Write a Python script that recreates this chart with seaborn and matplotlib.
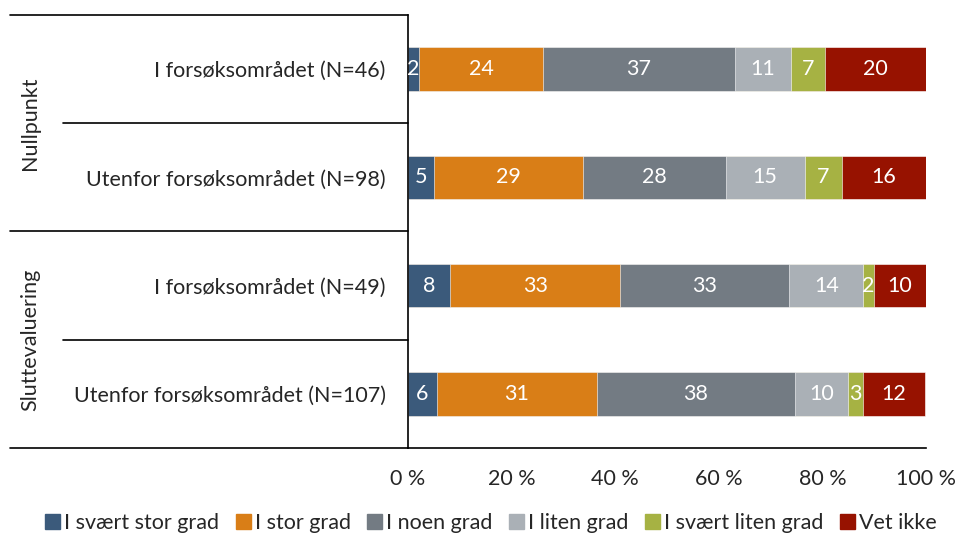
import matplotlib
matplotlib.use('Agg')
import numpy as np
import pandas as pd
import matplotlib.pyplot as plt
import seaborn as sns

# data: andel (%) per svarkategori
rows = ['I forsøksområdet (N=46)', 'Utenfor forsøksområdet (N=98)',
        'I forsøksområdet (N=49)', 'Utenfor forsøksområdet (N=107)']
groups = ['Nullpunkt', 'Sluttevaluering']
series = ['I svært stor grad', 'I stor grad', 'I noen grad', 'I liten grad',
          'I svært liten grad', 'Vet ikke']
svaert_stor = [2.2, 5.1, 8.2, 5.6]
stor = [23.9, 28.6, 32.7, 30.8]
noen = [37.0, 27.6, 32.7, 38.3]
liten = [10.9, 15.3, 14.3, 10.3]
svaert_liten = [6.5, 7.1, 2.0, 2.8]
vet_ikke = [19.6, 16.3, 10.2, 12.1]
xticks = [0, 20, 40, 60, 80, 100]

colors = ['#3B5A7B', '#D97E17', '#737B83', '#AAB0B6', '#A6B243', '#971200']

sns.set_theme(style='white')
plt.rcParams['font.family'] = ['Lato', 'DejaVu Sans']

df = pd.DataFrame({'rad': rows, series[0]: svaert_stor, series[1]: stor,
                   series[2]: noen, series[3]: liten, series[4]: svaert_liten,
                   series[5]: vet_ikke})
vals = df[series].to_numpy()
cum = vals.cumsum(axis=1)

fig = plt.figure(figsize=(9.57, 5.36), dpi=100)
ax = fig.add_axes([0.4263, 0.1642, 0.5413, 0.8078])

# stablet: tegn kumulative summer fra størst til minst
for i in range(len(series) - 1, -1, -1):
    sns.barplot(x=cum[:, i], y=df['rad'], color=colors[i], orient='h',
                width=0.4, ax=ax, edgecolor='white', linewidth=0.4,
                saturation=1)

for r in range(len(rows)):
    for i in range(len(series)):
        v = vals[r, i]
        ax.text(cum[r, i] - v / 2, r, str(int(v + 0.5)), color='white',
                fontsize=15.5, ha='center', va='center')

ax.set_xlim(0, 100)
ax.set_ylim(3.5, -0.5)
ax.set_xticks(xticks)
ax.set_xticklabels([f'{t} %' for t in xticks], fontsize=15.5)
ax.tick_params(axis='x', direction='out', length=5, width=1.2, color='black', pad=10)
ax.tick_params(axis='y', length=0, pad=16, labelsize=15.5)
ax.set_xlabel('')
ax.set_ylabel('')
for s in ['top', 'right']:
    ax.spines[s].set_visible(False)
for s in ['left', 'bottom']:
    ax.spines[s].set_color('black')
    ax.spines[s].set_linewidth(1.2)

# kategorilinjer til venstre
trans = matplotlib.transforms.blended_transform_factory(ax.transAxes, ax.transData)
for yb, x0 in zip([-0.5, 0.5, 1.5, 2.5, 3.5], [-0.768, -0.666, -0.768, -0.666, -0.768]):
    ax.plot([x0, 0], [yb, yb], color='black', lw=1.2, transform=trans, clip_on=False)
for g, yc in zip(groups, [0.5, 2.5]):
    ax.text(-0.73, yc, g, rotation=90, ha='center', va='center', fontsize=15.5,
            transform=trans)

handles = [matplotlib.patches.Patch(color=c) for c in colors]
fig.legend(handles, series, loc='lower center', bbox_to_anchor=(0.513, -0.03),
           ncol=6, frameon=False, fontsize=15.5, handlelength=0.7, handleheight=0.7,
           handletextpad=0.2, columnspacing=0.75)

fig.savefig('out.png', dpi=100)
